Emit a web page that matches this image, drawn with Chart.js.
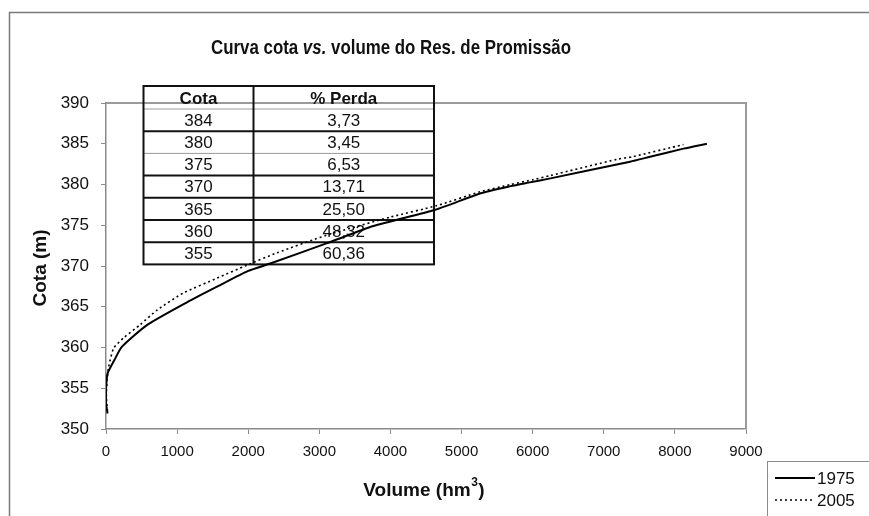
<!DOCTYPE html>
<html>
<head>
<meta charset="utf-8">
<script src="https://cdn.jsdelivr.net/npm/chart.js@4"></script>
<style>
  html, body { margin: 0; padding: 0; background: #fff; }
  #wrap { width: 869px; height: 516px; position: relative; }
</style>
</head>
<body>
<div id="wrap"><canvas id="cotaChart"></canvas></div>
<script>
// === Data ===
const vol1975  = [22, 0, 0, 14, 30, 120, 225, 585, 1150, 1570, 2000, 2310, 3110, 3760, 4630, 5260, 5690, 5920, 6250, 7370, 7650, 8120, 8450];
const cota1975 = [351.9, 353.2, 354.8, 356.4, 357.0, 358.5, 360.1, 362.8, 365.6, 367.5, 369.4, 370.3, 372.8, 374.9, 376.9, 378.9, 379.8, 380.2, 380.75, 382.8, 383.4, 384.4, 385.0];

const vol2005  = [20, 5, 15, 37, 107, 250, 480, 720, 1090, 1560, 1980, 2400, 3110, 4000, 4650, 5260, 5690, 6010, 6250, 7190, 7400, 8120];
const cota2005 = [352.2, 354.0, 356.0, 357.6, 359.9, 361.2, 362.8, 364.6, 366.7, 368.5, 370.1, 371.6, 373.8, 376.0, 377.4, 379.1, 380.0, 380.6, 381.1, 383.1, 383.4, 384.9];

const seriesNames = ['1975', '2005'];

const tableCota  = ['384', '380', '375', '370', '365', '360', '355'];
const tablePerda = ['3,73', '3,45', '6,53', '13,71', '25,50', '48,32', '60,36'];

const FONT = '"Liberation Sans", Arial, sans-serif';

function toPoints(xs, ys) {
  return xs.map((x, i) => ({ x: x, y: ys[i] }));
}

// === Decorations: frame, table, titles, legend ===
const decor = {
  id: 'decor',
  beforeDraw(chart) {
    const ctx = chart.ctx;
    ctx.save();
    ctx.fillStyle = '#fff';
    ctx.fillRect(0, 0, chart.width, chart.height);
    // outer chart frame (runs off the right and bottom)
    ctx.strokeStyle = '#7a7a7a';
    ctx.lineWidth = 1.5;
    ctx.beginPath();
    ctx.moveTo(9.5, chart.height + 2);
    ctx.lineTo(9.5, 12.5);
    ctx.lineTo(chart.width + 2, 12.5);
    ctx.stroke();
    ctx.restore();
  },
  beforeDatasetsDraw(chart) {
    const ctx = chart.ctx;
    const ca = chart.chartArea;
    ctx.save();
    // plot area top/right border
    ctx.strokeStyle = '#9a9a9a';
    ctx.lineWidth = 2;
    ctx.beginPath();
    ctx.moveTo(ca.left, ca.top);
    ctx.lineTo(ca.right, ca.top);
    ctx.lineTo(ca.right, ca.bottom);
    ctx.stroke();

    // loss table
    const left = ca.left + 37.5, right = ca.left + 328, mid = ca.left + 147.5;
    const top = ca.top - 17, headH = 23, rowH = 22.2;
    const bottom = top + headH + rowH * tableCota.length;
    ctx.fillStyle = '#111';
    ctx.textAlign = 'center';
    ctx.textBaseline = 'middle';
    ctx.font = 'bold 17px ' + FONT;
    ctx.fillText('Cota', (left + mid) / 2, top + headH / 2 + 2);
    ctx.fillText('% Perda', (mid + right) / 2, top + headH / 2 + 2);
    ctx.font = '17px ' + FONT;
    tableCota.forEach((c, i) => {
      const yc = top + headH + rowH * i + rowH / 2 + 1;
      ctx.fillText(c, (left + mid) / 2, yc);
      ctx.fillText(tablePerda[i], (mid + right) / 2, yc);
    });
    // row separators: some thin grey, most thick black
    const thin = [0, 2];
    for (let i = 0; i < tableCota.length; i++) {
      const y = top + headH + rowH * i;
      ctx.beginPath();
      if (thin.includes(i)) { ctx.strokeStyle = '#9a9a9a'; ctx.lineWidth = 1; }
      else { ctx.strokeStyle = '#111'; ctx.lineWidth = 2; }
      ctx.moveTo(left, y);
      ctx.lineTo(right, y);
      ctx.stroke();
    }
    ctx.strokeStyle = '#111';
    ctx.lineWidth = 2;
    ctx.strokeRect(left, top, right - left, bottom - top);
    ctx.beginPath();
    ctx.moveTo(mid, top);
    ctx.lineTo(mid, bottom);
    ctx.stroke();
    ctx.restore();
  },
  afterDraw(chart) {
    const ctx = chart.ctx;
    ctx.save();
    ctx.fillStyle = '#111';

    // chart title with italic "vs."
    const parts = [
      { t: 'Curva cota ', f: 'bold 21px ' + FONT },
      { t: 'vs.', f: 'italic bold 21px ' + FONT },
      { t: ' volume do Res. de Promissão', f: 'bold 21px ' + FONT }
    ];
    let total = 0;
    parts.forEach(p => { ctx.font = p.f; p.w = ctx.measureText(p.t).width; total += p.w; });
    const targetW = 360;
    const sx = targetW / total;
    ctx.save();
    ctx.translate(391 - targetW / 2, 54);
    ctx.scale(sx, 1);
    ctx.textAlign = 'left';
    ctx.textBaseline = 'alphabetic';
    let x = 0;
    parts.forEach(p => { ctx.font = p.f; ctx.fillText(p.t, x, 0); x += p.w; });
    ctx.restore();

    // y axis title
    ctx.save();
    ctx.translate(41, 268);
    ctx.rotate(-Math.PI / 2);
    ctx.font = 'bold 19px ' + FONT;
    ctx.textAlign = 'center';
    ctx.textBaseline = 'middle';
    ctx.fillText('Cota (m)', 0, 0);
    ctx.restore();

    // x axis title with superscript
    ctx.textAlign = 'left';
    ctx.textBaseline = 'alphabetic';
    ctx.font = 'bold 19px ' + FONT;
    const a = 'Volume (hm', b = ')';
    const wa = ctx.measureText(a).width, wb = ctx.measureText(b).width;
    ctx.font = 'bold 12px ' + FONT;
    const ws = ctx.measureText('3').width + 1;
    const x0 = 424 - (wa + ws + wb) / 2;
    ctx.font = 'bold 19px ' + FONT;
    ctx.fillText(a, x0, 496);
    ctx.fillText(b, x0 + wa + ws, 496);
    ctx.font = 'bold 12px ' + FONT;
    ctx.fillText('3', x0 + wa + 0.5, 486);

    // legend box (runs off the corner)
    ctx.strokeStyle = '#8a8a8a';
    ctx.lineWidth = 1;
    ctx.strokeRect(767.5, 461.5, 200, 100);
    ctx.font = '17px ' + FONT;
    ctx.textBaseline = 'middle';
    chart.data.datasets.forEach((ds, i) => {
      const y = 478 + i * 22;
      ctx.strokeStyle = ds.borderColor;
      ctx.lineWidth = ds.borderWidth;
      ctx.setLineDash(ds.borderDash || []);
      ctx.beginPath();
      ctx.moveTo(775, y);
      ctx.lineTo(815, y);
      ctx.stroke();
      ctx.setLineDash([]);
      ctx.fillStyle = '#111';
      ctx.fillText(ds.label, 817, y + 1);
    });
    ctx.restore();
  }
};

new Chart(document.getElementById('cotaChart').getContext('2d'), {
  type: 'line',
  data: {
    datasets: [{
      label: seriesNames[0],
      data: toPoints(vol1975, cota1975),
      borderColor: '#000',
      borderWidth: 2,
      pointRadius: 0,
      tension: 0.2,
      fill: false
    }, {
      label: seriesNames[1],
      data: toPoints(vol2005, cota2005),
      borderColor: '#000',
      borderWidth: 1.6,
      borderDash: [2, 3],
      pointRadius: 0,
      tension: 0.2,
      fill: false
    }]
  },
  options: {
    responsive: true,
    maintainAspectRatio: false,
    animation: false,
    devicePixelRatio: 1,
    layout: { padding: { left: 0, top: 103, right: 123, bottom: 0 } },
    plugins: {
      legend: { display: false },
      title: { display: false },
      tooltip: { enabled: false }
    },
    scales: {
      x: {
        type: 'linear',
        min: 0,
        max: 9000,
        afterFit: function (scale) { scale.height = 87; },
        ticks: {
          stepSize: 1000, color: '#111', font: { family: FONT, size: 15 }, padding: 9, maxRotation: 0,
          callback: function (value) { return String(value); }
        },
        grid: { drawOnChartArea: false, drawTicks: true, tickLength: 5, color: '#8a8a8a' },
        border: { color: '#8a8a8a', width: 1.5 }
      },
      y: {
        type: 'linear',
        min: 350,
        max: 390,
        afterFit: function (scale) { scale.width = 106; },
        ticks: {
          stepSize: 5, color: '#111', font: { family: FONT, size: 17 }, padding: 12,
          callback: function (value) { return String(value); }
        },
        grid: { drawOnChartArea: false, drawTicks: true, tickLength: 5, color: '#8a8a8a' },
        border: { color: '#8a8a8a', width: 1.5 }
      }
    }
  },
  plugins: [decor]
});
</script>
</body>
</html>
